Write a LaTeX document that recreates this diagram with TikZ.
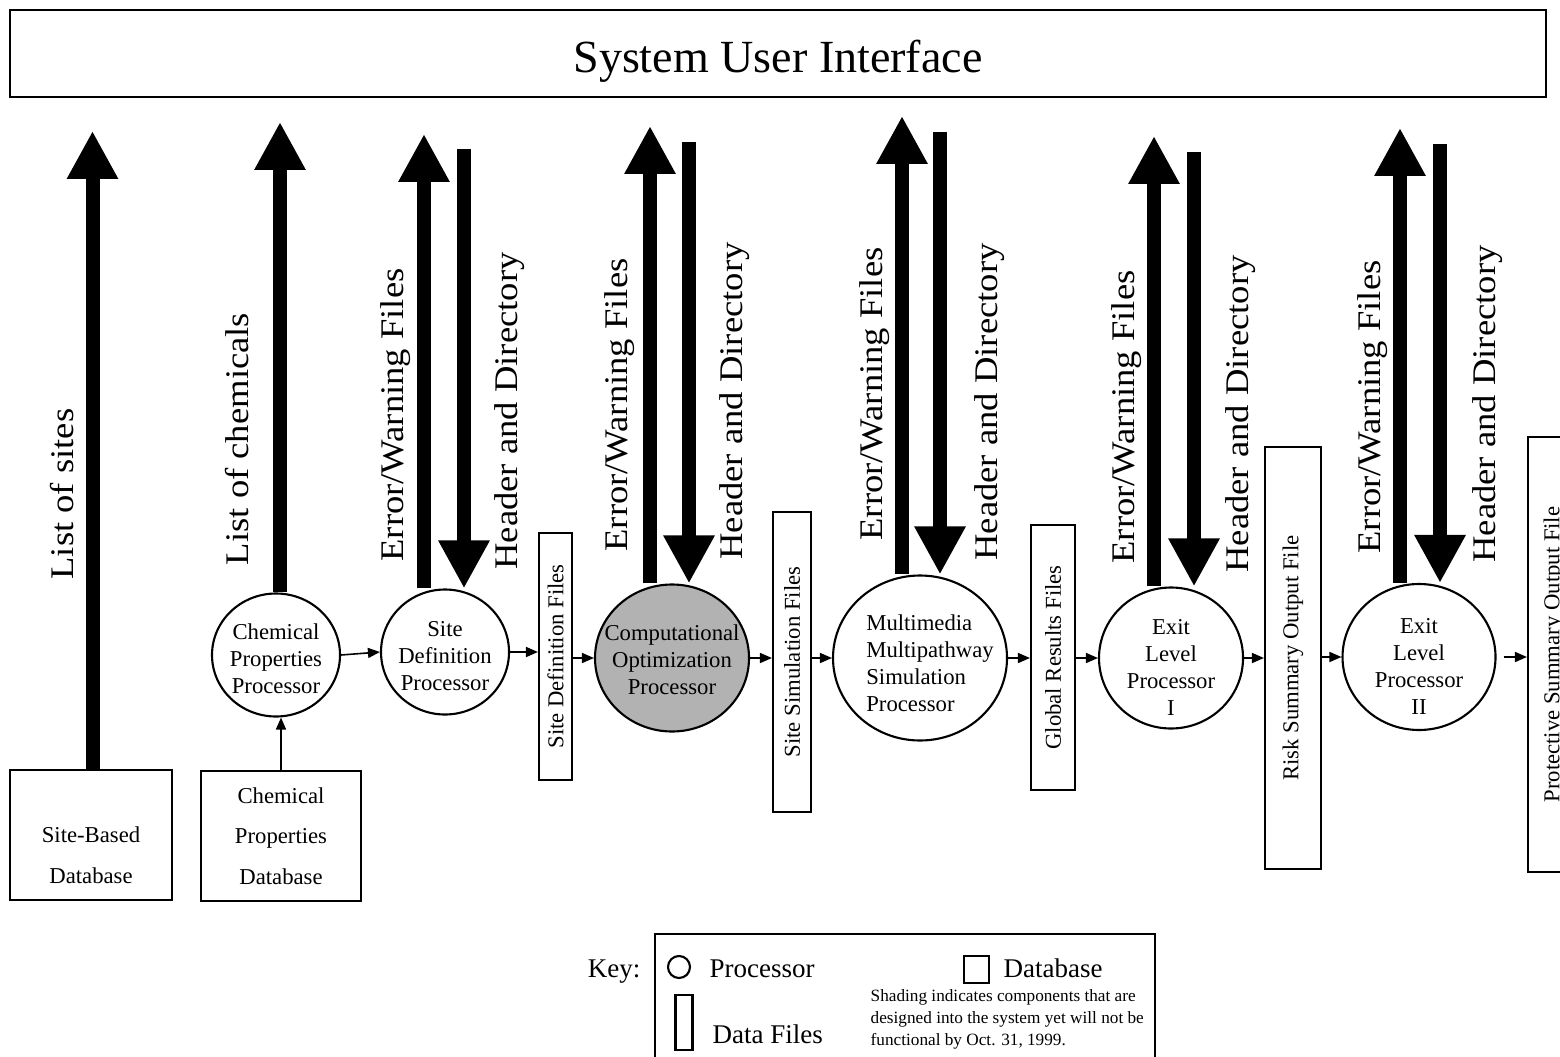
\documentclass[tikz,border=0pt]{standalone}
\usepackage{fontspec}
\usepackage{xcolor}
\usepackage{tikz}
\usetikzlibrary{arrows.meta,shapes.geometric}
\setmainfont{Liberation Serif}
\newfontfamily\widefont[FakeStretch=1.11]{Liberation Serif}
\definecolor{SUIGray}{HTML}{B2B2B2}
\newcommand{\procsize}{\fontsize{6.46}{7.68}\selectfont}
\newcommand{\dbsize}{\fontsize{6.46}{11.6}\selectfont}
\newcommand{\flowsize}{\widefont\fontsize{9.39}{11}\selectfont}
\newcommand{\titlesize}{\fontsize{13.1}{15}\selectfont}
\newcommand{\keysize}{\fontsize{7.68}{9}\selectfont}
\newcommand{\notesize}{\fontsize{4.9}{6.26}\selectfont}

\begin{document}
\begin{tikzpicture}[x=1cm,y=1cm,
  proc/.style={ellipse,draw,line width=0.6pt,inner sep=0pt},
  filebox/.style={draw,line width=0.6pt,inner sep=0pt,font=\procsize},
  dbbox/.style={draw,line width=0.6pt,inner sep=0pt,minimum height=1.30cm,align=center,font=\dbsize},
  flow/.style={line width=0.45pt,-{Triangle[length=0.12cm,width=0.10cm]}},
  bigflow/.style={line width=0.14cm,-{Triangle[length=0.48cm,width=0.48cm]}},
  flowtext/.style={rotate=90,anchor=base,inner sep=0pt,font=\flowsize},
  every label/.style={font=\procsize,align=center,inner sep=0pt}]
\path[use as bounding box] (0,0) rectangle (15.60,10.56);
\clip (0,0) rectangle (15.60,10.56);
% interface box
\node[draw,line width=0.6pt,minimum width=15.36cm,minimum height=0.87cm,
  label={[font=\titlesize,yshift=-0.08cm]center:System User Interface}] (sui) at (7.78,10.025) {};
% databases
\node[dbbox,minimum width=1.62cm] (sbd) at (0.91,2.21) {};
\node[align=center,font=\dbsize,inner sep=0pt] (sbdt) at (0.91,2.01) {Site-Based\\Database};
\node[dbbox,minimum width=1.60cm] (cbd) at (2.81,2.20) {Chemical\\Properties\\Database};
% processors
\node[proc,minimum width=1.28cm,minimum height=1.23cm,label={[yshift=-0.04cm]center:Chemical\\Properties\\Processor}] (cpp) at (2.76,4.01) {};
\node[proc,minimum width=1.28cm,minimum height=1.25cm,label={[yshift=-0.04cm]center:Site\\Definition\\Processor}] (sdp) at (4.45,4.04) {};
\node[proc,fill=SUIGray,minimum width=1.54cm,minimum height=1.47cm,label={[yshift=-0.02cm]center:Computational\\Optimization\\Processor}] (cop) at (6.72,3.98) {};
\node[proc,minimum width=1.74cm,minimum height=1.65cm,label={[align=left,xshift=0.10cm,yshift=-0.05cm]center:Multimedia\\Multipathway\\Simulation\\Processor}] (mmp) at (9.20,3.98) {};
\node[proc,minimum width=1.44cm,minimum height=1.41cm,label={[yshift=-0.09cm]center:Exit\\Level\\Processor\\I}] (el1) at (11.71,3.98) {};
\node[proc,minimum width=1.53cm,minimum height=1.46cm,label={[yshift=-0.09cm]center:Exit\\Level\\Processor\\II}] (el2) at (14.19,3.99) {};
% data files
\node[filebox,minimum width=0.33cm,minimum height=2.47cm] (sdf) at (5.555,3.995) {\rotatebox{90}{Site Definition Files}};
\node[filebox,minimum width=0.38cm,minimum height=3.00cm] (ssf) at (7.92,3.94) {\rotatebox{90}{Site Simulation Files}};
\node[filebox,minimum width=0.44cm,minimum height=2.65cm] (grf) at (10.53,3.985) {\rotatebox{90}{Global Results Files}};
\node[filebox,minimum width=0.56cm,minimum height=4.22cm] (rsf) at (12.93,3.98) {\rotatebox{90}{Risk Summary Output File}};
\node[filebox,minimum width=0.52cm,minimum height=4.35cm] (psf) at (15.54,4.015) {\rotatebox{90}{Protective Summary Output File}};
% chain
\draw[flow] (cbd.north) -- (cbd.north |- cpp.south);
\draw[flow] (cpp.east) -- (sdp.west);
\draw[flow] (sdp.east) -- (sdp.east -| sdf.west);
\draw[flow] (sdf.east |- cop.west) -- (cop.west);
\draw[flow] (cop.east) -- (cop.east -| ssf.west);
\draw[flow] (ssf.east |- mmp.west) -- (mmp.west);
\draw[flow] (mmp.east) -- (mmp.east -| grf.west);
\draw[flow] (grf.east |- el1.west) -- (el1.west);
\draw[flow] (el1.east) -- (el1.east -| rsf.west);
\draw[flow] (rsf.east |- el2.west) -- (el2.west);
\draw[flow] ([xshift=0.07cm]el2.east) -- (el2.east -| psf.west);
% to and from the interface
\draw[bigflow] ([xshift=0.015cm]sbd.north) -- ++(0,6.38);
\draw[bigflow] ([xshift=0.04cm]cpp.north) -- ++(0,4.705);
\draw[bigflow] ([xshift=-0.21cm]sdp.north) -- ++(0,4.545);
\draw[bigflow] ([xshift=0.19cm,yshift=4.39cm]sdp.north) -- ([xshift=0.19cm]sdp.north);
\draw[bigflow] ([xshift=-0.22cm]cop.north) -- ++(0,4.575);
\draw[bigflow] ([xshift=0.17cm,yshift=4.415cm]cop.north) -- ([xshift=0.17cm]cop.north);
\draw[bigflow] ([xshift=-0.18cm]mmp.north) -- ++(0,4.585);
\draw[bigflow] ([xshift=0.20cm,yshift=4.425cm]mmp.north) -- ([xshift=0.20cm]mmp.north);
\draw[bigflow] ([xshift=-0.17cm]el1.north) -- ++(0,4.505);
\draw[bigflow] ([xshift=0.23cm,yshift=4.345cm]el1.north) -- ([xshift=0.23cm]el1.north);
\draw[bigflow] ([xshift=-0.19cm]el2.north) -- ++(0,4.55);
\draw[bigflow] ([xshift=0.21cm,yshift=4.39cm]el2.north) -- ([xshift=0.21cm]el2.north);
\node[flowtext] (lsites) at (0.73,5.62) {List of sites};
\node[flowtext] (lchem) at (2.48,6.17) {List of chemicals};
\node[flowtext] (sdperr) at (4.03,6.41) {Error/Warning Files};
\node[flowtext] (sdphd) at (5.17,6.45) {Header and Directory};
\node[flowtext] (coperr) at (6.27,6.51) {Error/Warning Files};
\node[flowtext] (cophd) at (7.42,6.55) {Header and Directory};
\node[flowtext] (mmperr) at (8.82,6.62) {Error/Warning Files};
\node[flowtext] (mmphd) at (9.97,6.54) {Header and Directory};
\node[flowtext] (elaerr) at (11.34,6.39) {Error/Warning Files};
\node[flowtext] (elahd) at (12.48,6.42) {Header and Directory};
\node[flowtext] (elberr) at (13.80,6.49) {Error/Warning Files};
\node[flowtext] (elbhd) at (14.95,6.52) {Header and Directory};
% key
\node[anchor=base east,inner sep=0pt,font=\keysize] (keyt) at (6.41,0.79) {Key:};
\node[draw,line width=0.6pt,minimum width=5.00cm,minimum height=1.26cm] (keybox) at (9.05,0.59) {};
\node[draw,circle,line width=0.6pt,minimum size=0.22cm,inner sep=0pt] (keyproc) at (6.79,0.89) {};
\node[anchor=base west,inner sep=0pt,font=\keysize] (keyproct) at (7.09,0.79) {Processor};
\node[draw,line width=0.6pt,minimum width=0.25cm,minimum height=0.27cm,inner sep=0pt] (keydb) at (9.765,0.865) {};
\node[anchor=base west,inner sep=0pt,font=\keysize] (keydbt) at (10.03,0.79) {Database};
\node[draw,line width=0.6pt,minimum width=0.17cm,minimum height=0.55cm,inner sep=0pt] (keyfile) at (6.84,0.335) {};
\node[anchor=base west,inner sep=0pt,font=\keysize] (keyfilet) at (7.12,0.13) {Data Files};
\node[anchor=west,align=left,inner sep=0pt,font=\notesize] (keynote) at (8.70,0.37) {Shading indicates components that are\\designed into the system yet will not be\\functional by Oct. 31, 1999.};
\end{tikzpicture}
\end{document}
